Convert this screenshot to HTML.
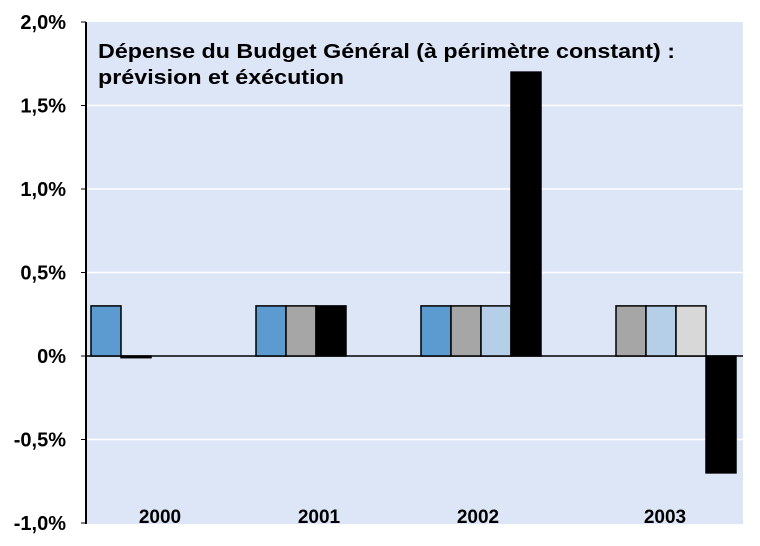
<!DOCTYPE html>
<html><head><meta charset="utf-8"><style>
body{margin:0;background:#fff;}
svg text{font-family:"Liberation Sans",Arial,sans-serif;font-weight:bold;}
</style></head><body>
<svg width="760" height="541">
<script>
const categories=["2000","2001","2002","2003"];
const s1=[0.3,0.3,0.3,null];
const s2=[null,0.3,0.3,0.3];
const s3=[null,null,0.3,0.3];
const s4=[null,null,null,0.3];
const s5=[-0.01,0.3,1.7,-0.7];
const ticks=[2.0,1.5,1.0,0.5,0,-0.5,-1.0];
const tickLabels=["2,0%","1,5%","1,0%","0,5%","0%","-0,5%","-1,0%"];
</script>
<rect x="86" y="22" width="657" height="502" fill="#dde6f6"/>
<g id="grid"></g>
<g id="bars"></g>
<line x1="86" y1="22" x2="86" y2="524" stroke="#000" stroke-width="2"/>
<text x="98" y="58" font-size="20" textLength="577" lengthAdjust="spacingAndGlyphs">Dépense du Budget Général (à périmètre constant) :</text>
<text x="98" y="84" font-size="20" textLength="246" lengthAdjust="spacingAndGlyphs">prévision et éxécution</text>
<g id="labels"></g>
<script>
const NS="http://www.w3.org/2000/svg";
function y(v){return 356-v*167;}
const grid=document.getElementById('grid'),bars=document.getElementById('bars'),labels=document.getElementById('labels');
ticks.forEach((t,i)=>{
 if(t!==0 && t!==-1 && t!==2){const l=document.createElementNS(NS,'line');
 l.setAttribute('x1',86);l.setAttribute('x2',743);l.setAttribute('y1',y(t));l.setAttribute('y2',y(t));
 l.setAttribute('stroke','#fff');l.setAttribute('stroke-width','1.5');
 
 
 grid.appendChild(l);}
 const tk=document.createElementNS(NS,'line');
 tk.setAttribute('x1',81);tk.setAttribute('x2',86);tk.setAttribute('y1',y(t));tk.setAttribute('y2',y(t));tk.setAttribute('stroke','#000');
 
 
 grid.appendChild(tk);
 const tx=document.createElementNS(NS,'text');
 tx.setAttribute('x',66);tx.setAttribute('y',y(t)+7);tx.setAttribute('text-anchor','end');tx.setAttribute('font-size','20');
 tx.textContent=tickLabels[i];
 
 
 labels.appendChild(tx);
});
const series=[s1,s2,s3,s4,s5];
const colors=["#5b9bd0","#a6a6a6","#b6cfe8","#d8d8d8","#000"];
const groupStart=[91,256,421,616];
const bw=30;
const zl=document.createElementNS(NS,'line');
zl.setAttribute('x1',86);zl.setAttribute('x2',743);zl.setAttribute('y1',356);zl.setAttribute('y2',356);zl.setAttribute('stroke','#000');zl.setAttribute('stroke-width','1.5');


bars.appendChild(zl);
categories.forEach((c,ci)=>{
 let k=0;
 series.forEach((s,si)=>{
  const v=s[ci];
  if(v===null)return;
  const x=groupStart[ci]+k*bw;
  k++;
  const r=document.createElementNS(NS,'rect');
  const y0=Math.min(y(v),y(0)),h=Math.max(Math.abs(y(v)-y(0)),1.5);
  r.setAttribute('x',x);r.setAttribute('y',y0);r.setAttribute('width',bw);r.setAttribute('height',h);
  r.setAttribute('fill',colors[si]);r.setAttribute('stroke','#000');r.setAttribute('stroke-width','1.5');
  
  
  bars.appendChild(r);
 });
});
const catX=[160,319,478,665];
categories.forEach((c,i)=>{
 const tx=document.createElementNS(NS,'text');
 tx.setAttribute('x',catX[i]);tx.setAttribute('y',523);tx.setAttribute('text-anchor','middle');tx.setAttribute('font-size','19');
 tx.textContent=c;
 
 
 labels.appendChild(tx);
});
</script>
</svg>
</body></html>
